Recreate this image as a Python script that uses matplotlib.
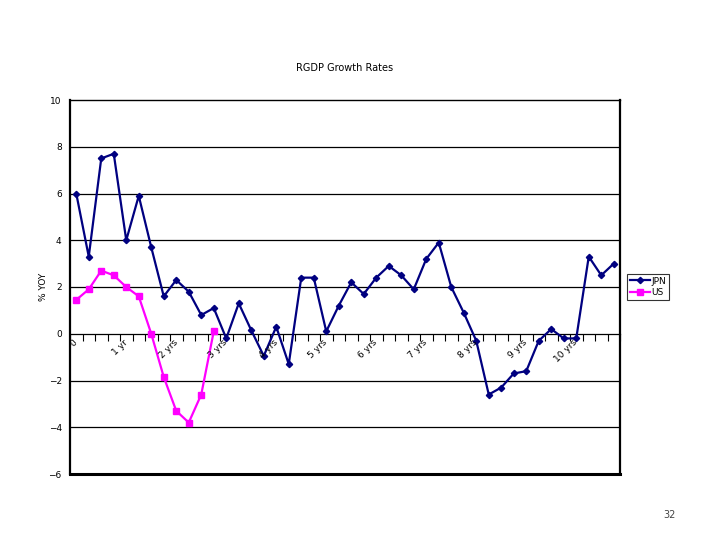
import numpy as np
import matplotlib
matplotlib.use("Agg")
import matplotlib.pyplot as plt
import matplotlib.transforms as mtransforms

# quarterly RGDP growth, % YOY
jpn = [6.0, 3.3, 7.5, 7.7, 4.0, 5.9, 3.7, 1.6, 2.3, 1.8, 0.8, 1.1,
       -0.2, 1.3, 0.15, -0.95, 0.3, -1.3, 2.4, 2.4, 0.1, 1.2, 2.2, 1.7,
       2.4, 2.9, 2.5, 1.9, 3.2, 3.9, 2.0, 0.9, -0.3, -2.6, -2.3, -1.7,
       -1.6, -0.3, 0.2, -0.2, -0.2, 3.3, 2.5, 3.0]
us = [1.45, 1.9, 2.7, 2.5, 2.0, 1.6, 0.0, -1.85, -3.3, -3.8, -2.6, 0.1]
year_labels = ["0", "1 yr", "2 yrs", "3 yrs", "4 yrs", "5 yrs",
               "6 yrs", "7 yrs", "8 yrs", "9 yrs", "10 yrs"]

x = np.arange(len(jpn))
x_us = np.arange(len(us))

plt.rcParams['font.family'] = ['DejaVu Sans']

fig = plt.figure(figsize=(7.2, 5.4), dpi=100)
ax = fig.add_axes([70/720, 1-474/540, 550/720, 374/540])

# grid lines
for yv in [-4, -2, 2, 4, 6, 8]:
    ax.axhline(yv, color='black', lw=0.9, zorder=1)

ax.plot(x, jpn, color='#000080', lw=1.6, marker='D', markersize=3.2,
        label='JPN', zorder=3)
ax.plot(x_us, us, color='#FF00FF', lw=1.6, marker='s', markersize=3.8,
        label='US', zorder=3)

ax.set_xlim(-0.5, len(jpn) - 0.5)
ax.set_ylim(-6, 10)
ax.set_yticks(range(-6, 11, 2))
ax.set_yticklabels(['\u22126', '\u22124', '\u22122', '0', '2', '4', '6', '8', '10'])
ax.tick_params(axis='y', length=0, pad=6, labelsize=6.5)

# category axis sits at zero
ax.spines['bottom'].set_position(('data', 0))
ax.spines['bottom'].set_linewidth(0.9)
ax.set_xticks(np.arange(-0.5, len(jpn), 1))
ax.set_xticklabels([])
ax.tick_params(axis='x', direction='out', length=5, width=0.8)
ax.spines['left'].set_linewidth(1.6)
ax.spines['right'].set_linewidth(1.6)
ax.spines['top'].set_linewidth(1.0)
ax.axhline(-6, color='black', lw=2.2, clip_on=False, zorder=4)

offset = mtransforms.offset_copy(ax.transData, fig=fig, x=3, y=-4, units='dots')
for i, lab in enumerate(year_labels):
    ax.text(i * 4, 0, lab, rotation=45, ha='right', va='top',
            fontsize=6.5, transform=offset)

ax.set_ylabel('% YOY', fontsize=6.5, labelpad=0)
ax.set_title('RGDP Growth Rates', fontsize=7, pad=21)

leg = fig.legend(loc='center left', bbox_to_anchor=(627/720, 1-287/540),
                 fontsize=6.5, frameon=True, fancybox=False,
                 handlelength=2.2, handletextpad=0.2, borderpad=0.3,
                 labelspacing=0.3, borderaxespad=0)
leg.get_frame().set_edgecolor('black')
leg.get_frame().set_linewidth(0.8)

fig.text(670/720, 1-515/540, '32', fontsize=7, color='#444444', ha='center', va='center')

fig.savefig('out.png', dpi=100)
